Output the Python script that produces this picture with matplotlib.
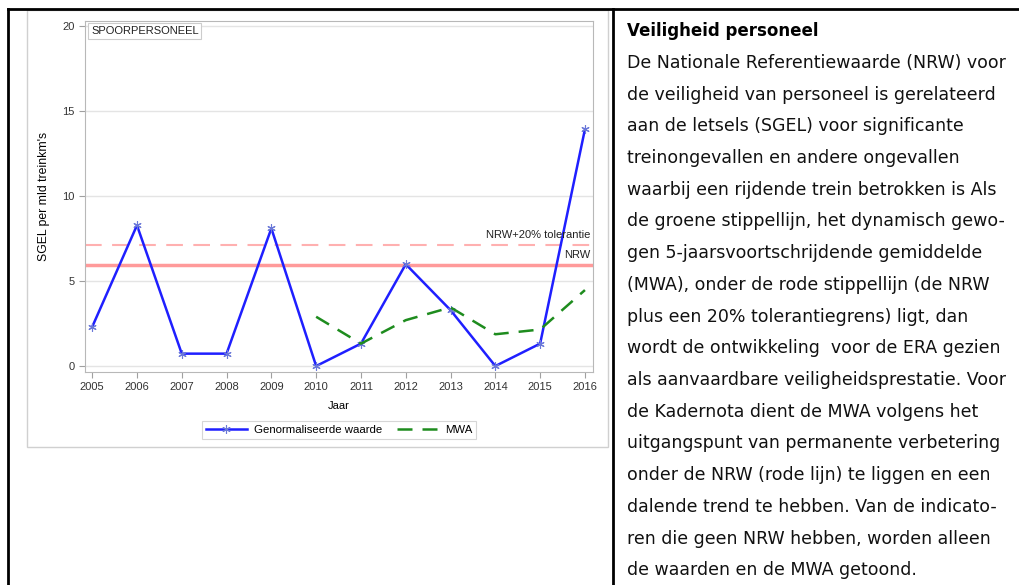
import matplotlib
matplotlib.use("Agg")
import matplotlib.pyplot as plt
from matplotlib.lines import Line2D
from matplotlib.patches import Rectangle

# Data
years = [2005, 2006, 2007, 2008, 2009, 2010, 2011, 2012, 2013, 2014, 2015, 2016]
waarde = [2.3, 8.28, 0.73, 0.73, 8.1, 0.0, 1.32, 5.99, 3.29, 0.0, 1.32, 13.93]
mwa_years = [2010, 2011, 2012, 2013, 2014, 2015, 2016]
mwa = [2.9, 1.32, 2.7, 3.45, 1.87, 2.15, 4.47]
nrw = 5.95
nrw_tol = 7.14
y_ticks = [0, 5, 10, 15, 20]

title = "Veiligheid personeel"
body = [
    "De Nationale Referentiewaarde (NRW) voor",
    "de veiligheid van personeel is gerelateerd",
    "aan de letsels (SGEL) voor significante",
    "treinongevallen en andere ongevallen",
    "waarbij een rijdende trein betrokken is Als",
    "de groene stippellijn, het dynamisch gewo-",
    "gen 5-jaarsvoortschrijdende gemiddelde",
    "(MWA), onder de rode stippellijn (de NRW",
    "plus een 20% tolerantiegrens) ligt, dan",
    "wordt de ontwikkeling  voor de ERA gezien",
    "als aanvaardbare veiligheidsprestatie. Voor",
    "de Kadernota dient de MWA volgens het",
    "uitgangspunt van permanente verbetering",
    "onder de NRW (rode lijn) te liggen en een",
    "dalende trend te hebben. Van de indicato-",
    "ren die geen NRW hebben, worden alleen",
    "de waarden en de MWA getoond.",
]

W, H = 1020, 585


def fx(px):
    return px / W


def fy(py):
    return 1 - py / H


fig = plt.figure(figsize=(10.2, 5.85), dpi=100)

# table borders
fig.add_artist(Line2D([fx(8), 1], [fy(9), fy(9)], color="black", lw=2))
fig.add_artist(Line2D([fx(8), fx(8)], [fy(9), 0], color="black", lw=2))
fig.add_artist(Line2D([fx(613), fx(613)], [fy(9), 0], color="black", lw=2))

# light frame around the chart
fig.add_artist(Rectangle((fx(26.5), fy(447)), fx(608) - fx(26.5), fy(10) - fy(447),
                         transform=fig.transFigure, facecolor="white",
                         edgecolor="#d0d0d0", lw=1, zorder=-5))

ax = fig.add_axes([fx(85), fy(372), fx(593) - fx(85), fy(21) - fy(372)])
ax.set_xlim(2004.84, 2016.18)
ax.set_ylim(-0.35, 20.3)

cfont = "Liberation Sans"
fs = 8
ax.set_yticks(y_ticks)
ax.set_xticks(years)
ax.tick_params(labelsize=fs, colors="#333333", length=4, color="#a0a0a0")
for lab in ax.get_xticklabels() + ax.get_yticklabels():
    lab.set_fontfamily(cfont)
for s in ax.spines.values():
    s.set_color("#b8b8b8")
ax.grid(axis="y", color="#e4e4e4", lw=1)
ax.set_axisbelow(True)

ax.set_xlabel("Jaar", fontsize=fs, family=cfont, labelpad=6)
ax.set_ylabel("SGEL per mld treinkm's", fontsize=8.8, family=cfont, labelpad=9)

ax.axhline(nrw_tol, color="#ffb0b0", lw=1.5, dashes=(8, 5))
ax.axhline(nrw, color="#ff9a9a", lw=2.5)
ax.annotate("NRW+20% tolerantie", (1, nrw_tol), xycoords=("axes fraction", "data"),
            xytext=(-2, 7), textcoords="offset points", ha="right", va="center",
            fontsize=fs, family=cfont, color="#222222")
ax.annotate("NRW", (1, nrw), xycoords=("axes fraction", "data"),
            xytext=(-2, 7), textcoords="offset points", ha="right", va="center",
            fontsize=fs, family=cfont, color="#222222")

l1, = ax.plot(years, waarde, color="#1f1fff", lw=1.8, marker=(6, 2, 0),
              ms=6, mec="#6a78d8", mew=0.8, label="Genormaliseerde waarde")
l2, = ax.plot(mwa_years, mwa, color="#1e8c1e", lw=1.8, dashes=(6, 4), label="MWA")

ax.text(0.012, 0.985, "SPOORPERSONEEL", transform=ax.transAxes, ha="left", va="top",
        fontsize=fs, family=cfont, color="#222222",
        bbox=dict(boxstyle="square,pad=0.25", fc="white", ec="#cccccc", lw=0.8))

leg = fig.legend(handles=[l1, l2], loc="center", ncol=2,
                 bbox_to_anchor=(fx(339), fy(430)), frameon=True, fancybox=False,
                 prop={"family": cfont, "size": 8.2}, handlelength=3.6,
                 borderpad=0.35, columnspacing=1.3, handletextpad=0.6)
leg.get_frame().set_edgecolor("#cccccc")
leg.get_frame().set_linewidth(0.8)

# text on the right
fig.text(fx(627), fy(31), title, fontsize=12, fontweight="bold",
         family="DejaVu Sans", va="center", ha="left")
for i, line in enumerate(body):
    fig.text(fx(627), fy(63 + i * 31.7), line, fontsize=12.5,
             family="DejaVu Sans", va="center", ha="left", color="#111111")

fig.savefig("out.png", dpi=100)
